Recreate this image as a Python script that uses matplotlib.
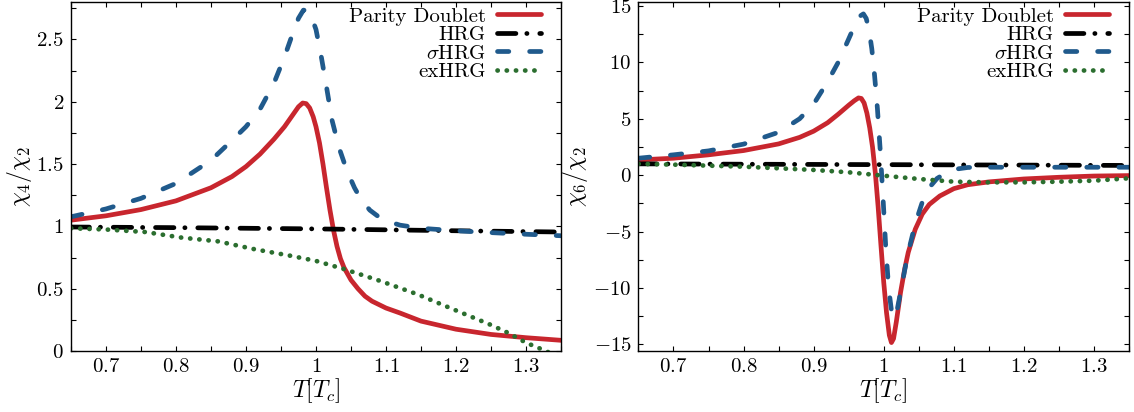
import matplotlib
matplotlib.use('Agg')
import matplotlib.pyplot as plt
from matplotlib.ticker import MultipleLocator, FuncFormatter

plt.rcParams['font.family'] = 'cmr10'
plt.rcParams['mathtext.fontset'] = 'cm'
plt.rcParams['axes.unicode_minus'] = False

# chi4/chi2 (left panel)
T4_pd = [0.65, 0.70, 0.75, 0.80, 0.85, 0.88, 0.90, 0.92, 0.94, 0.955, 0.965, 0.975, 0.981,
         0.986, 0.991, 0.996, 1.0, 1.005, 1.01, 1.015, 1.02, 1.025, 1.03, 1.035, 1.04, 1.05,
         1.06, 1.07, 1.08, 1.10, 1.12, 1.15, 1.20, 1.25, 1.30, 1.35]
c4_pd = [1.05, 1.085, 1.135, 1.205, 1.31, 1.40, 1.48, 1.58, 1.70, 1.80, 1.88, 1.96, 1.99,
         1.985, 1.95, 1.88, 1.80, 1.67, 1.50, 1.31, 1.13, 0.97, 0.84, 0.74, 0.67, 0.57,
         0.50, 0.44, 0.40, 0.345, 0.305, 0.24, 0.175, 0.133, 0.107, 0.086]

T4_hrg = [0.65, 0.80, 1.0, 1.2, 1.35]
c4_hrg = [0.995, 0.99, 0.98, 0.965, 0.955]

T4_sig = [0.65, 0.70, 0.75, 0.80, 0.85, 0.88, 0.90, 0.92, 0.94, 0.955, 0.965, 0.975, 0.982,
          0.988, 0.993, 1.0, 1.007, 1.015, 1.023, 1.033, 1.044, 1.055, 1.065, 1.077, 1.09,
          1.103, 1.12, 1.15, 1.20, 1.25, 1.30, 1.35]
c4_sig = [1.077, 1.14, 1.225, 1.345, 1.53, 1.69, 1.80, 1.94, 2.15, 2.36, 2.52, 2.67, 2.735,
          2.735, 2.69, 2.58, 2.38, 2.12, 1.85, 1.63, 1.45, 1.31, 1.21, 1.13, 1.075,
          1.04, 1.01, 0.985, 0.965, 0.95, 0.937, 0.925]

T4_ex = [0.65, 0.70, 0.756, 0.808, 0.86, 0.912, 0.963, 1.0, 1.041, 1.093, 1.145, 1.196,
         1.248, 1.274, 1.30, 1.323, 1.34]
c4_ex = [0.985, 0.975, 0.955, 0.91, 0.88, 0.817, 0.765, 0.723, 0.656, 0.56, 0.455, 0.335,
         0.214, 0.147, 0.067, 0.013, -0.03]

# chi6/chi2 (right panel)
T6_pd = [0.65, 0.70, 0.75, 0.80, 0.85, 0.88, 0.90, 0.92, 0.935, 0.95, 0.958, 0.964, 0.968,
         0.972, 0.976, 0.98, 0.984, 0.988, 0.992, 0.996, 1.0, 1.004, 1.008, 1.011, 1.014,
         1.018, 1.024, 1.03, 1.035, 1.045, 1.055, 1.065, 1.08, 1.10, 1.12, 1.15, 1.20,
         1.25, 1.30, 1.35]
c6_pd = [1.35, 1.5, 1.8, 2.18, 2.77, 3.35, 3.9, 4.65, 5.4, 6.2, 6.6, 6.85, 6.8,
         6.4, 5.5, 4.2, 2.5, 0.2, -2.8, -6.2, -9.5, -12.2, -14.2, -14.85, -14.5,
         -13.0, -10.4, -8.3, -6.85, -4.8, -3.45, -2.6, -1.85, -1.2, -0.85, -0.6, -0.34,
         -0.19, -0.08, -0.04]

T6_hrg = [0.65, 0.80, 1.0, 1.2, 1.35]
c6_hrg = [1.0, 0.97, 0.93, 0.89, 0.86]

T6_sig = [0.65, 0.70, 0.75, 0.80, 0.85, 0.88, 0.90, 0.92, 0.935, 0.948, 0.958, 0.966, 0.971,
          0.975, 0.979, 0.983, 0.987, 0.991, 0.995, 0.999, 1.003, 1.007, 1.011, 1.015,
          1.019, 1.024, 1.03, 1.035, 1.045, 1.055, 1.065, 1.076, 1.09, 1.105, 1.12, 1.15,
          1.35]
c6_sig = [1.5, 1.8, 2.15, 2.75, 3.8, 5.0, 6.3, 8.3, 10.0, 11.8, 13.2, 14.1, 14.3,
          13.9, 12.9, 11.2, 8.8, 5.9, 2.2, -2.0, -6.5, -10.0, -12.0, -12.7,
          -12.0, -10.4, -8.4, -6.85, -4.3, -2.4, -1.1, -0.3, 0.25, 0.55, 0.68, 0.7,
          0.7]

T6_ex = [0.65, 0.70, 0.80, 0.90, 0.95, 1.0, 1.05, 1.10, 1.15, 1.20, 1.25, 1.30, 1.35]
c6_ex = [1.0, 0.93, 0.75, 0.46, 0.25, -0.05, -0.34, -0.58, -0.64, -0.64, -0.58, -0.49, -0.28]

labels = ['Parity Doublet', 'HRG', r'$\sigma$HRG', 'exHRG']
red = '#c8262e'
black = '#000000'
blue = '#205a8c'
green = '#2b6e2f'
lw = 3.4


def fmt(v, pos):
    s = '%g' % round(v, 6)
    return '$' + s + '$'


def draw(ax, series, ylim, ymaj, ymin, ylabel):
    (Tpd, cpd), (Th, ch), (Ts, cs), (Te, ce) = series
    ax.plot(Tpd, cpd, color=red, lw=lw, solid_capstyle='round',
            solid_joinstyle='round', label=labels[0])
    ax.plot(Th, ch, color=black, lw=lw, dashes=(3.9, 2.3, 0.05, 2.7),
            dash_capstyle='round', label=labels[1])
    ax.plot(Ts, cs, color=blue, lw=lw, dashes=(2.4, 4.4),
            dash_capstyle='round', label=labels[2])
    ax.plot(Te, ce, color=green, lw=lw, dashes=(0.05, 1.9),
            dash_capstyle='round', label=labels[3])
    ax.set_xlim(0.65, 1.35)
    ax.set_ylim(*ylim)
    ax.xaxis.set_major_locator(MultipleLocator(0.1))
    ax.xaxis.set_minor_locator(MultipleLocator(0.05))
    ax.yaxis.set_major_locator(MultipleLocator(ymaj))
    ax.yaxis.set_minor_locator(MultipleLocator(ymin))
    ax.xaxis.set_major_formatter(FuncFormatter(fmt))
    ax.yaxis.set_major_formatter(FuncFormatter(fmt))
    ax.tick_params(which='both', direction='in', top=True, right=True,
                   length=3.6, width=0.8, labelsize=15, pad=5)
    for sp in ax.spines.values():
        sp.set_linewidth(1.0)
    ax.set_xlabel(r'$T[T_c]$', fontsize=17, labelpad=0)
    ax.set_ylabel(ylabel, fontsize=17, labelpad=2)
    ax.legend(loc='upper right', frameon=False, markerfirst=False, fontsize=15,
              handlelength=2.13, handletextpad=0.54, labelspacing=0.0,
              borderpad=0, borderaxespad=0, bbox_to_anchor=(0.960, 0.986))


fig = plt.figure(figsize=(11.34, 4.12), dpi=100)
ax1 = fig.add_axes([0.0626, 0.148, 0.4321, 0.847])
ax2 = fig.add_axes([0.5630, 0.148, 0.4326, 0.847])

draw(ax1, [(T4_pd, c4_pd), (T4_hrg, c4_hrg), (T4_sig, c4_sig), (T4_ex, c4_ex)],
     (0, 2.8), 0.5, 0.25, r'$\chi_4/\chi_2$')
draw(ax2, [(T6_pd, c6_pd), (T6_hrg, c6_hrg), (T6_sig, c6_sig), (T6_ex, c6_ex)],
     (-15.6, 15.35), 5, 2.5, r'$\chi_6/\chi_2$')

fig.savefig('out.png', dpi=100)
